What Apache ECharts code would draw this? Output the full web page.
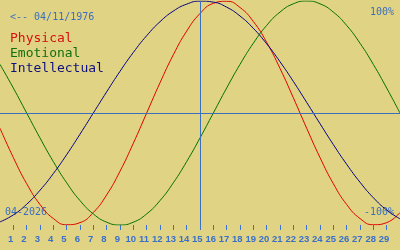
<!DOCTYPE html>
<html>
<head>
<meta charset="utf-8">
<style>
html,body{margin:0;padding:0;background:#e1d384;}
#c{width:400px;height:250px;}
</style>
<script src="https://cdn.jsdelivr.net/npm/echarts@6/dist/echarts.min.js"></script>
</head>
<body>
<div id="c"></div>
<script>
// Day of month (x) for each sample
const days = [0,1,2,3,4,5,6,7,8,9,10,11,12,13,14,15,16,17,18,19,20,21,22,23,24,25,26,27,28,29,30];
// Biorhythm values (-1 .. 1)
const physical = [-0.136,-0.398,-0.631,-0.817,-0.942,-0.998,-0.979,-0.888,-0.731,-0.520,-0.270,0,0.270,0.520,0.731,0.888,0.979,0.998,0.942,0.817,0.631,0.398,0.136,-0.136,-0.398,-0.631,-0.817,-0.942,-0.998,-0.979,-0.888];
const emotional = [0.434,0.223,0,-0.223,-0.434,-0.623,-0.782,-0.901,-0.975,-1,-0.975,-0.901,-0.782,-0.623,-0.434,-0.223,0,0.223,0.434,0.623,0.782,0.901,0.975,1,0.975,0.901,0.782,0.623,0.434,0.223,0];
const intellectual = [-0.972,-0.910,-0.815,-0.690,-0.541,-0.372,-0.189,0,0.189,0.372,0.541,0.690,0.815,0.910,0.972,0.999,0.990,0.945,0.866,0.756,0.618,0.458,0.282,0.095,-0.095,-0.282,-0.458,-0.618,-0.756,-0.866,-0.945];
// Tick labels on the day axis
const tickDays = [1,2,3,4,5,6,7,8,9,10,11,12,13,14,15,16,17,18,19,20,21,22,23,24,25,26,27,28,29];
const seriesNames = ['Physical','Emotional','Intellectual'];
const birthText = '<-- 04/11/1976';
const monthText = '04-2026';
const topText = '100%';
const bottomText = '-100%';
const todayDay = 15;

const colors = {Physical:'#e00000', Emotional:'#007000', Intellectual:'#000080'};
const textBlue = '#3a6fc0';
const mono = '"DejaVu Sans Mono", "Liberation Mono", monospace';

const pairs = arr => days.map((d,i)=>[d, arr[i]]);
const dataMap = {Physical: physical, Emotional: emotional, Intellectual: intellectual};

const chart = echarts.init(document.getElementById('c'), null, {renderer:'canvas'});
const series = seriesNames.map(name => ({
  name, type:'line', data: pairs(dataMap[name]), smooth: 0.5, showSymbol:false,
  lineStyle:{color: colors[name], width:1}, itemStyle:{color: colors[name]},
  silent:true, animation:false, z:3
}));
series.push({
  type:'line', data:[], silent:true, animation:false,
  markLine:{
    symbol:['none','none'], silent:true, label:{show:false},
    lineStyle:{color:'#3a6fc0', width:1, type:'solid'},
    data:[{yAxis:0},{xAxis: todayDay}]
  }
});

chart.setOption({
  backgroundColor:'#e1d384',
  animation:false,
  grid:{left:0,right:0,top:1,bottom:25,containLabel:false},
  xAxis:[{
    type:'value', min:0, max:30, position:'bottom',
    axisLine:{show:false, onZero:false},
    axisTick:{show:true, length:5, inside:false, customValues: tickDays, lineStyle:{color:'#3a74cc',width:1}},
    axisLabel:{show:false},
    splitLine:{show:false}
  },{
    type:'value', min:0.2, max:30.2, position:'bottom',
    axisLine:{show:false, onZero:false}, axisTick:{show:false}, splitLine:{show:false},
    axisLabel:{show:true, customValues: tickDays, margin:9, color:'#3a70c8', fontSize:9.5, fontWeight:'bold',
      fontFamily:'"Liberation Sans", Arial, sans-serif'}
  }],
  yAxis:{type:'value', min:-1, max:1, show:false},
  graphic:[
    {type:'text', left:10, top:12, style:{text:birthText, fill:textBlue, font:'10px '+mono}},
    {type:'text', left:10, top:32, style:{text:seriesNames[0], fill:'#d81010', font:'13px '+mono}},
    {type:'text', left:10, top:47, style:{text:seriesNames[1], fill:'#107010', font:'13px '+mono}},
    {type:'text', left:10, top:62, style:{text:seriesNames[2], fill:'#101080', font:'13px '+mono}},
    {type:'text', right:6, top:7, style:{text:topText, fill:textBlue, font:'10px '+mono}},
    {type:'text', left:5, top:207, style:{text:monthText, fill:textBlue, font:'10px '+mono}},
    {type:'text', right:6, top:207, style:{text:bottomText, fill:textBlue, font:'10px '+mono}}
  ],
  series
});
</script>
</body>
</html>
